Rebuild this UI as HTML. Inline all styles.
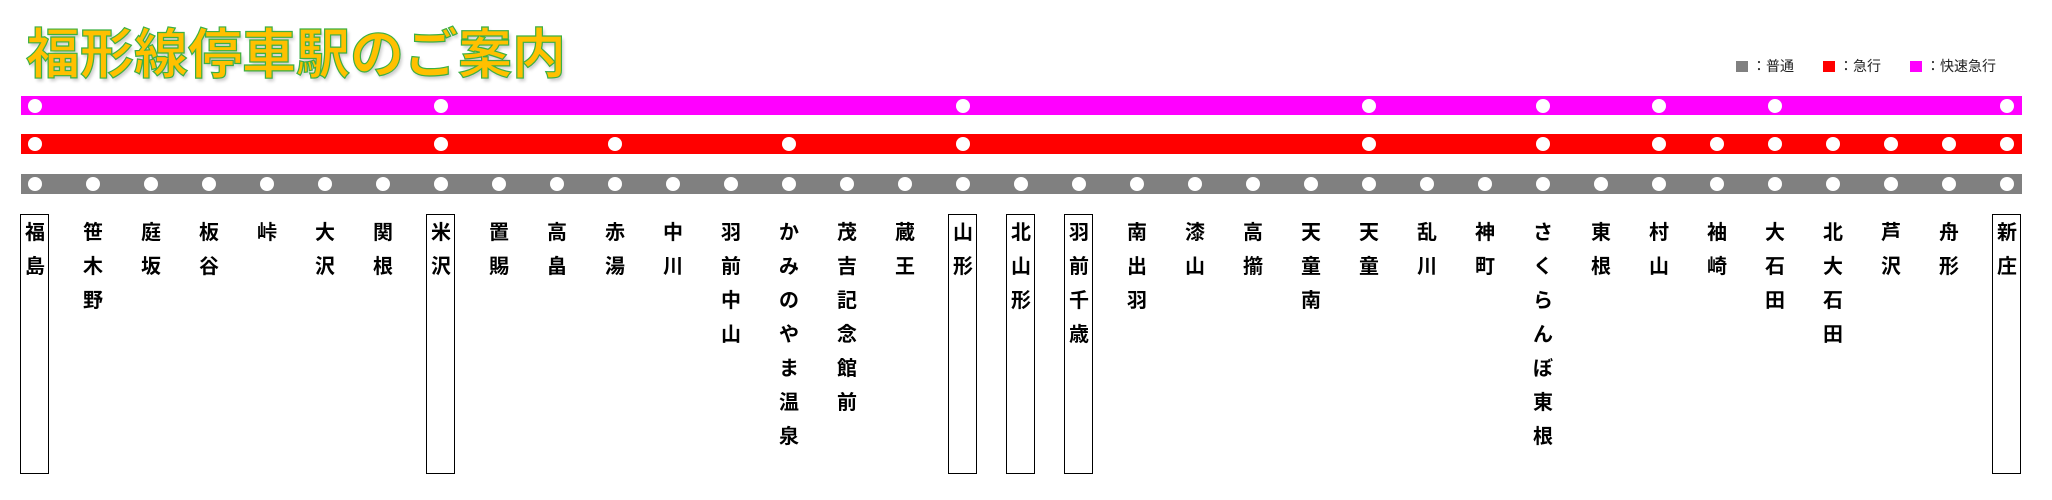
<!DOCTYPE html>
<html><head><meta charset="utf-8"><style>
body{margin:0;width:2052px;height:500px;background:#fff;position:relative;overflow:hidden;font-family:"Liberation Sans","Noto Sans CJK JP",sans-serif}
.t{position:absolute;left:26px;top:10px;font-size:54px;font-weight:bold;color:#FFC000;-webkit-text-stroke:1.2px #3CB043;letter-spacing:0;text-shadow:2px 3px 3px rgba(0,0,0,.2);white-space:nowrap}
.s{position:absolute;top:216px;width:40px;margin-left:-20px;text-align:center;font-size:20px;font-weight:bold;line-height:34px;color:#000}
.b{position:absolute;top:214px;width:27px;height:258px;margin-left:-15px;border:1.5px solid #000}
.lg{position:absolute;top:56px;font-size:14px;color:#222;line-height:20px;white-space:nowrap}
.sq{display:inline-block;width:12px;height:11px;vertical-align:-1px;margin-right:4px}
</style></head><body>
<div class="t">福形線停車駅のご案内</div>
<div class="lg" style="left:1736px"><span class="sq" style="background:#808080"></span>：普通</div>
<div class="lg" style="left:1823px"><span class="sq" style="background:#f00"></span>：急行</div>
<div class="lg" style="left:1910px"><span class="sq" style="background:#f0f"></span>：快速急行</div>
<svg width="2052" height="500" style="position:absolute;left:0;top:0">
<rect x="21" y="96" width="2001" height="19" fill="#f0f"/>
<rect x="21" y="134" width="2001" height="20" fill="#f00"/>
<rect x="21" y="174" width="2001" height="20" fill="#808080"/>
<g fill="#fff">
<circle cx="35" cy="106" r="7"/><circle cx="441" cy="106" r="7"/><circle cx="963" cy="106" r="7"/><circle cx="1369" cy="106" r="7"/><circle cx="1543" cy="106" r="7"/><circle cx="1659" cy="106" r="7"/><circle cx="1775" cy="106" r="7"/><circle cx="2007" cy="106" r="7"/>
<circle cx="35" cy="144" r="7"/><circle cx="441" cy="144" r="7"/><circle cx="615" cy="144" r="7"/><circle cx="789" cy="144" r="7"/><circle cx="963" cy="144" r="7"/><circle cx="1369" cy="144" r="7"/><circle cx="1543" cy="144" r="7"/><circle cx="1659" cy="144" r="7"/><circle cx="1717" cy="144" r="7"/><circle cx="1775" cy="144" r="7"/><circle cx="1833" cy="144" r="7"/><circle cx="1891" cy="144" r="7"/><circle cx="1949" cy="144" r="7"/><circle cx="2007" cy="144" r="7"/>
<circle cx="35" cy="184" r="7"/><circle cx="93" cy="184" r="7"/><circle cx="151" cy="184" r="7"/><circle cx="209" cy="184" r="7"/><circle cx="267" cy="184" r="7"/><circle cx="325" cy="184" r="7"/><circle cx="383" cy="184" r="7"/><circle cx="441" cy="184" r="7"/><circle cx="499" cy="184" r="7"/><circle cx="557" cy="184" r="7"/><circle cx="615" cy="184" r="7"/><circle cx="673" cy="184" r="7"/><circle cx="731" cy="184" r="7"/><circle cx="789" cy="184" r="7"/><circle cx="847" cy="184" r="7"/><circle cx="905" cy="184" r="7"/><circle cx="963" cy="184" r="7"/><circle cx="1021" cy="184" r="7"/><circle cx="1079" cy="184" r="7"/><circle cx="1137" cy="184" r="7"/><circle cx="1195" cy="184" r="7"/><circle cx="1253" cy="184" r="7"/><circle cx="1311" cy="184" r="7"/><circle cx="1369" cy="184" r="7"/><circle cx="1427" cy="184" r="7"/><circle cx="1485" cy="184" r="7"/><circle cx="1543" cy="184" r="7"/><circle cx="1601" cy="184" r="7"/><circle cx="1659" cy="184" r="7"/><circle cx="1717" cy="184" r="7"/><circle cx="1775" cy="184" r="7"/><circle cx="1833" cy="184" r="7"/><circle cx="1891" cy="184" r="7"/><circle cx="1949" cy="184" r="7"/><circle cx="2007" cy="184" r="7"/>
</g></svg>
<div class="b" style="left:35px"></div><div class="b" style="left:441px"></div><div class="b" style="left:963px"></div><div class="b" style="left:1021px"></div><div class="b" style="left:1079px"></div><div class="b" style="left:2007px"></div>
<div class="s" style="left:35px">福<br>島</div>
<div class="s" style="left:93px">笹<br>木<br>野</div>
<div class="s" style="left:151px">庭<br>坂</div>
<div class="s" style="left:209px">板<br>谷</div>
<div class="s" style="left:267px">峠</div>
<div class="s" style="left:325px">大<br>沢</div>
<div class="s" style="left:383px">関<br>根</div>
<div class="s" style="left:441px">米<br>沢</div>
<div class="s" style="left:499px">置<br>賜</div>
<div class="s" style="left:557px">高<br>畠</div>
<div class="s" style="left:615px">赤<br>湯</div>
<div class="s" style="left:673px">中<br>川</div>
<div class="s" style="left:731px">羽<br>前<br>中<br>山</div>
<div class="s" style="left:789px">か<br>み<br>の<br>や<br>ま<br>温<br>泉</div>
<div class="s" style="left:847px">茂<br>吉<br>記<br>念<br>館<br>前</div>
<div class="s" style="left:905px">蔵<br>王</div>
<div class="s" style="left:963px">山<br>形</div>
<div class="s" style="left:1021px">北<br>山<br>形</div>
<div class="s" style="left:1079px">羽<br>前<br>千<br>歳</div>
<div class="s" style="left:1137px">南<br>出<br>羽</div>
<div class="s" style="left:1195px">漆<br>山</div>
<div class="s" style="left:1253px">高<br>擶</div>
<div class="s" style="left:1311px">天<br>童<br>南</div>
<div class="s" style="left:1369px">天<br>童</div>
<div class="s" style="left:1427px">乱<br>川</div>
<div class="s" style="left:1485px">神<br>町</div>
<div class="s" style="left:1543px">さ<br>く<br>ら<br>ん<br>ぼ<br>東<br>根</div>
<div class="s" style="left:1601px">東<br>根</div>
<div class="s" style="left:1659px">村<br>山</div>
<div class="s" style="left:1717px">袖<br>崎</div>
<div class="s" style="left:1775px">大<br>石<br>田</div>
<div class="s" style="left:1833px">北<br>大<br>石<br>田</div>
<div class="s" style="left:1891px">芦<br>沢</div>
<div class="s" style="left:1949px">舟<br>形</div>
<div class="s" style="left:2007px">新<br>庄</div>
</body></html>
